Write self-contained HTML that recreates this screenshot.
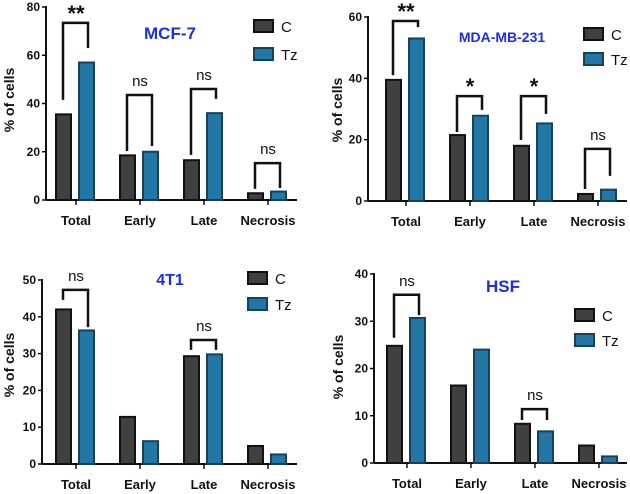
<!DOCTYPE html>
<html><head><meta charset="utf-8">
<style>
body{margin:0;background:#fff;}
svg{display:block;font-family:"Liberation Sans",Arial,sans-serif;}
.tick{font-size:12px;font-weight:bold;fill:#111;}
.cat{font-size:13px;font-weight:bold;fill:#111;}
.ytitle{font-size:14px;font-weight:bold;fill:#111;}
.title{font-weight:bold;fill:#1a2ee8;}
.leg{font-size:15px;fill:#111;}
.sig{font-size:15px;fill:#111;}
.star{font-size:22px;font-weight:bold;fill:#111;}
</style></head>
<body>
<svg id="fig" width="630" height="494" viewBox="0 0 630 494"></svg>
<script>
const categories = ["Total","Early","Late","Necrosis"];
// MCF-7
const mcfC = [35.5,18.5,16.5,2.8];
const mcfTz = [57,20,36,3.5];
const mcfTicks = [0,20,40,60,80];
const mcfSig = ["**","ns","ns","ns"];
const mcfBrTop = [73.4,43.5,46,15.3];
const mcfBrL = [41.5,20.3,18.7,4.6];
const mcfBrR = [63,22.4,41.9,5];
// MDA-MB-231
const mdaC = [39.5,21.5,18,2.3];
const mdaTz = [53,27.8,25.3,3.7];
const mdaTicks = [0,20,40,60];
const mdaSig = ["**","*","*","ns"];
const mdaBrTop = [58.7,34.2,34.2,17];
const mdaBrL = [41,22.5,19.9,3.9];
const mdaBrR = [56.7,29.7,28.4,8.2];
// 4T1
const t1C = [42,12.8,29.3,4.9];
const t1Tz = [36.3,6.2,29.8,2.6];
const t1Ticks = [0,10,20,30,40,50];
const t1Sig = ["ns",null,"ns",null];
const t1BrTop = [47.3,null,33.7,null];
const t1BrL = [44.6,null,31,null];
const t1BrR = [37.2,null,31,null];
// HSF
const hsfC = [24.8,16.4,8.3,3.7];
const hsfTz = [30.7,24,6.7,1.4];
const hsfTicks = [0,10,20,30,40];
const hsfSig = ["ns",null,"ns",null];
const hsfBrTop = [35.6,null,11.4,null];
const hsfBrL = [26.5,null,9.1,null];
const hsfBrR = [31.3,null,9.1,null];

const NS="http://www.w3.org/2000/svg";
const svg=document.getElementById('fig');
function mk(tag,attrs,parent,text){const e=document.createElementNS(NS,tag);for(const k in attrs)e.setAttribute(k,attrs[k]);if(text!==undefined)e.textContent=text;(parent||svg).appendChild(e);return e;}

function panel(p){
  const g=mk('g',{});
  
  
  const max=p.ticks[p.ticks.length-1];
  const y=v=>p.y0-(v/max)*(p.y0-p.yTop);
  const cx=i=>p.c0+i*64;
  const ax=mk('line',{x1:p.ax,y1:p.yTop-1,x2:p.ax,y2:p.y0,stroke:'#111','stroke-width':2},g);
  
  
  p.ticks.forEach(t=>{
    mk('line',{x1:p.ax-4,y1:y(t),x2:p.ax,y2:y(t),stroke:'#111','stroke-width':1.5},g);
    const tl=mk('text',{x:p.ax-6,y:y(t)+4,'text-anchor':'end',class:'tick'},g,t);
    
    
  });
  const xa=mk('line',{x1:p.ax,y1:p.y0,x2:p.xEnd,y2:p.y0,stroke:'#111','stroke-width':2},g);
  
  
  const yt=mk('text',{x:p.ytx,y:p.yty,'text-anchor':'middle',class:'ytitle',transform:`rotate(-90 ${p.ytx} ${p.yty})`},g,'% of cells');
  
  
  categories.forEach((c,i)=>{
    const x=cx(i);
    mk('line',{x1:x,y1:p.y0,x2:x,y2:p.y0+5,stroke:'#111','stroke-width':1.5},g);
    const cl=mk('text',{x:x,y:p.labY,'text-anchor':'middle',class:'cat'},g,c);
    
    
    const b1=mk('rect',{x:x-20,y:y(p.C[i]),width:15,height:p.y0-y(p.C[i]),fill:'#404040',stroke:'#111','stroke-width':2},g);
    
    
    const b2=mk('rect',{x:x+3,y:y(p.Tz[i]),width:15,height:p.y0-y(p.Tz[i]),fill:'#2277a6',stroke:'#17405a','stroke-width':2},g);
    
    
    if(p.sig[i]){
      const lx=x-13,rx=x+12,ty=y(p.top[i]);
      const br=mk('path',{d:`M${lx},${y(p.L[i])} V${ty} H${rx} V${y(p.R[i])}`,fill:'none',stroke:'#111','stroke-width':2.5},g);
      
      
      const star=p.sig[i]!=='ns';
      const st=mk('text',{x:x,y:star?ty-2:ty-9,'text-anchor':'middle',class:star?'star':'sig'},g,p.sig[i]);
      
      
    }
  });
  const ti=mk('text',{x:p.tx,y:p.ty,'text-anchor':'middle',class:'title','font-size':p.tfs},g,p.title);
  
  
  const l1=mk('rect',{x:p.lx,y:p.ly,width:19,height:12,fill:'#404040',stroke:'#111','stroke-width':2},g);
  
  
  const lt1=mk('text',{x:p.lx+27,y:p.ly+12,class:'leg'},g,'C');
  
  
  const l2=mk('rect',{x:p.lx,y:p.ly+p.lg,width:19,height:12,fill:'#2277a6',stroke:'#17405a','stroke-width':2},g);
  
  
  const lt2=mk('text',{x:p.lx+27,y:p.ly+p.lg+12,class:'leg'},g,'Tz');
  
  
}
panel({name:'mcf7',title:'MCF-7',tx:170,ty:39,tfs:17,C:mcfC,Tz:mcfTz,ticks:mcfTicks,sig:mcfSig,top:mcfBrTop,L:mcfBrL,R:mcfBrR,
  ax:46,yTop:7,y0:200,xEnd:297,c0:76,labY:225,ytx:14,yty:100,lx:254,ly:20,lg:28});
panel({name:'mda-mb-231',title:'MDA-MB-231',tx:502,ty:42,tfs:14,C:mdaC,Tz:mdaTz,ticks:mdaTicks,sig:mdaSig,top:mdaBrTop,L:mdaBrL,R:mdaBrR,
  ax:368,yTop:17,y0:201,xEnd:627,c0:406,labY:226,ytx:342,yty:110,lx:584,ly:28,lg:25});
panel({name:'4t1',title:'4T1',tx:170,ty:285,tfs:16,C:t1C,Tz:t1Tz,ticks:t1Ticks,sig:t1Sig,top:t1BrTop,L:t1BrL,R:t1BrR,
  ax:42,yTop:280,y0:464,xEnd:297,c0:76,labY:489,ytx:14,yty:365,lx:248,ly:272,lg:26});
panel({name:'hsf',title:'HSF',tx:503,ty:292,tfs:17,C:hsfC,Tz:hsfTz,ticks:hsfTicks,sig:hsfSig,top:hsfBrTop,L:hsfBrL,R:hsfBrR,
  ax:374,yTop:274,y0:463,xEnd:627,c0:407,labY:488,ytx:343,yty:367,lx:575,ly:309,lg:25});
</script>
</body></html>
